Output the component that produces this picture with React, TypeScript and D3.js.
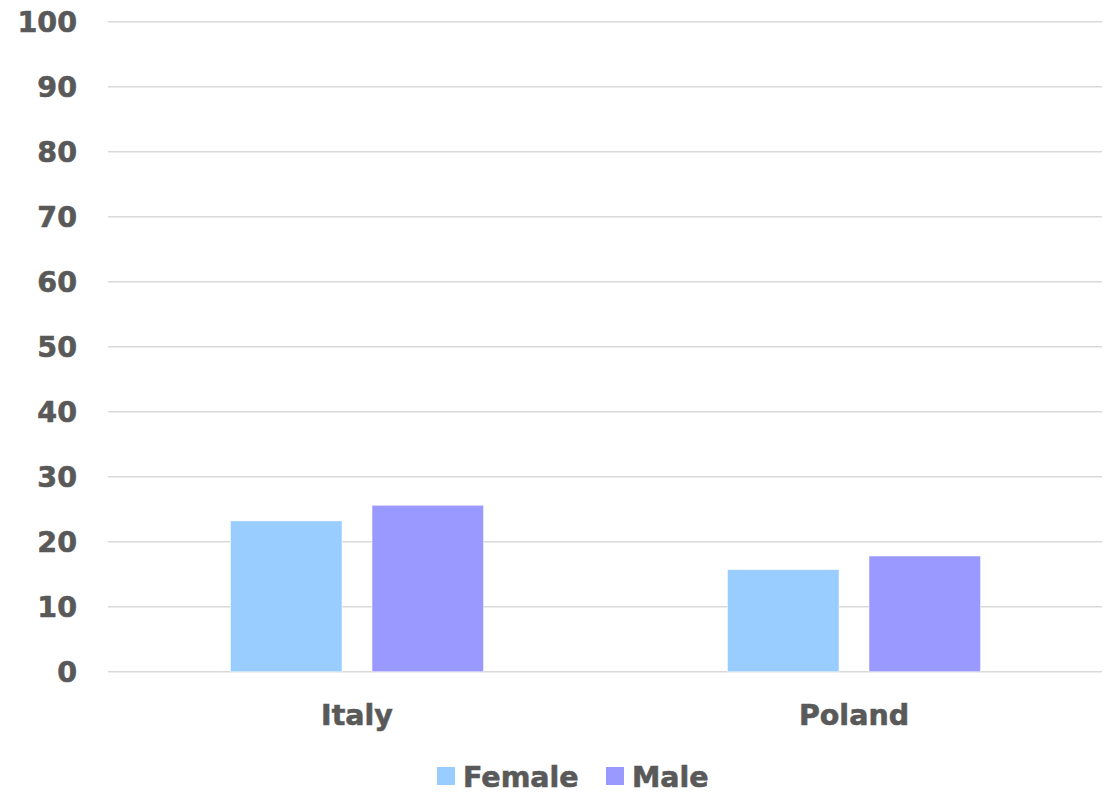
import React from "react";
import * as d3 from "d3";

const categories = ["Italy", "Poland"];
const seriesNames = ["Female", "Male"];
const femaleValues = [23.2, 15.7];
const maleValues = [25.6, 17.8];
const yTicks = [0, 10, 20, 30, 40, 50, 60, 70, 80, 90, 100];
const colors = ["#99ccff", "#9999ff"];

const W = 1114;
const H = 793;
const FONT = "'DejaVu Sans', Verdana, sans-serif";
const TEXT = "#595959";
const FS = 28.5;

export default function App() {
  const x0 = d3.scaleBand<string>().domain(categories).range([108.5, 1102.5]).padding(0);
  const x1 = d3
    .scaleBand<string>()
    .domain(seriesNames)
    .range([0, x0.bandwidth()])
    .paddingInner(0.212)
    .paddingOuter(0.862);
  const y = d3.scaleLinear().domain([0, 100]).range([671.7, 21.7]);
  const series = [femaleValues, maleValues];

  const textProps = {
    fontFamily: FONT,
    fontWeight: "bold" as const,
    fontSize: FS,
    fill: TEXT,
    stroke: TEXT,
    strokeWidth: 0.6,
  };

  return (
    <svg width={W} height={H} style={{ position: "absolute", left: 0, top: 0, background: "#fff" }}>
      <rect x={0} y={0} width={W} height={H} fill="#fff" />
      {yTicks.map((t) => (
        <g key={t}>
          <line x1={108} x2={1102} y1={y(t)} y2={y(t)} stroke="#d9d9d9" strokeWidth={1.5} />
          <text x={77} y={y(t)} dy="0.36em" textAnchor="end" {...textProps}>
            {t}
          </text>
        </g>
      ))}
      {categories.map((c, ci) => (
        <g key={c} transform={`translate(${x0(c)},0)`}>
          {seriesNames.map((s, si) => (
            <rect
              key={s}
              x={x1(s)}
              y={y(series[si][ci])}
              width={x1.bandwidth()}
              height={y(0) - y(series[si][ci])}
              fill={colors[si]}
              stroke="#ffffff"
              strokeOpacity={0.5}
              strokeWidth={1}
            />
          ))}
          <text x={x0.bandwidth() / 2} y={725} textAnchor="middle" {...textProps}>
            {c}
          </text>
        </g>
      ))}
      {seriesNames.map((s, si) => {
        const lx = si === 0 ? 437 : 606;
        return (
          <g key={s}>
            <rect x={lx} y={767} width={18} height={18} fill={colors[si]} />
            <text x={lx + 26} y={786.5} {...textProps}>
              {s}
            </text>
          </g>
        );
      })}
    </svg>
  );
}
